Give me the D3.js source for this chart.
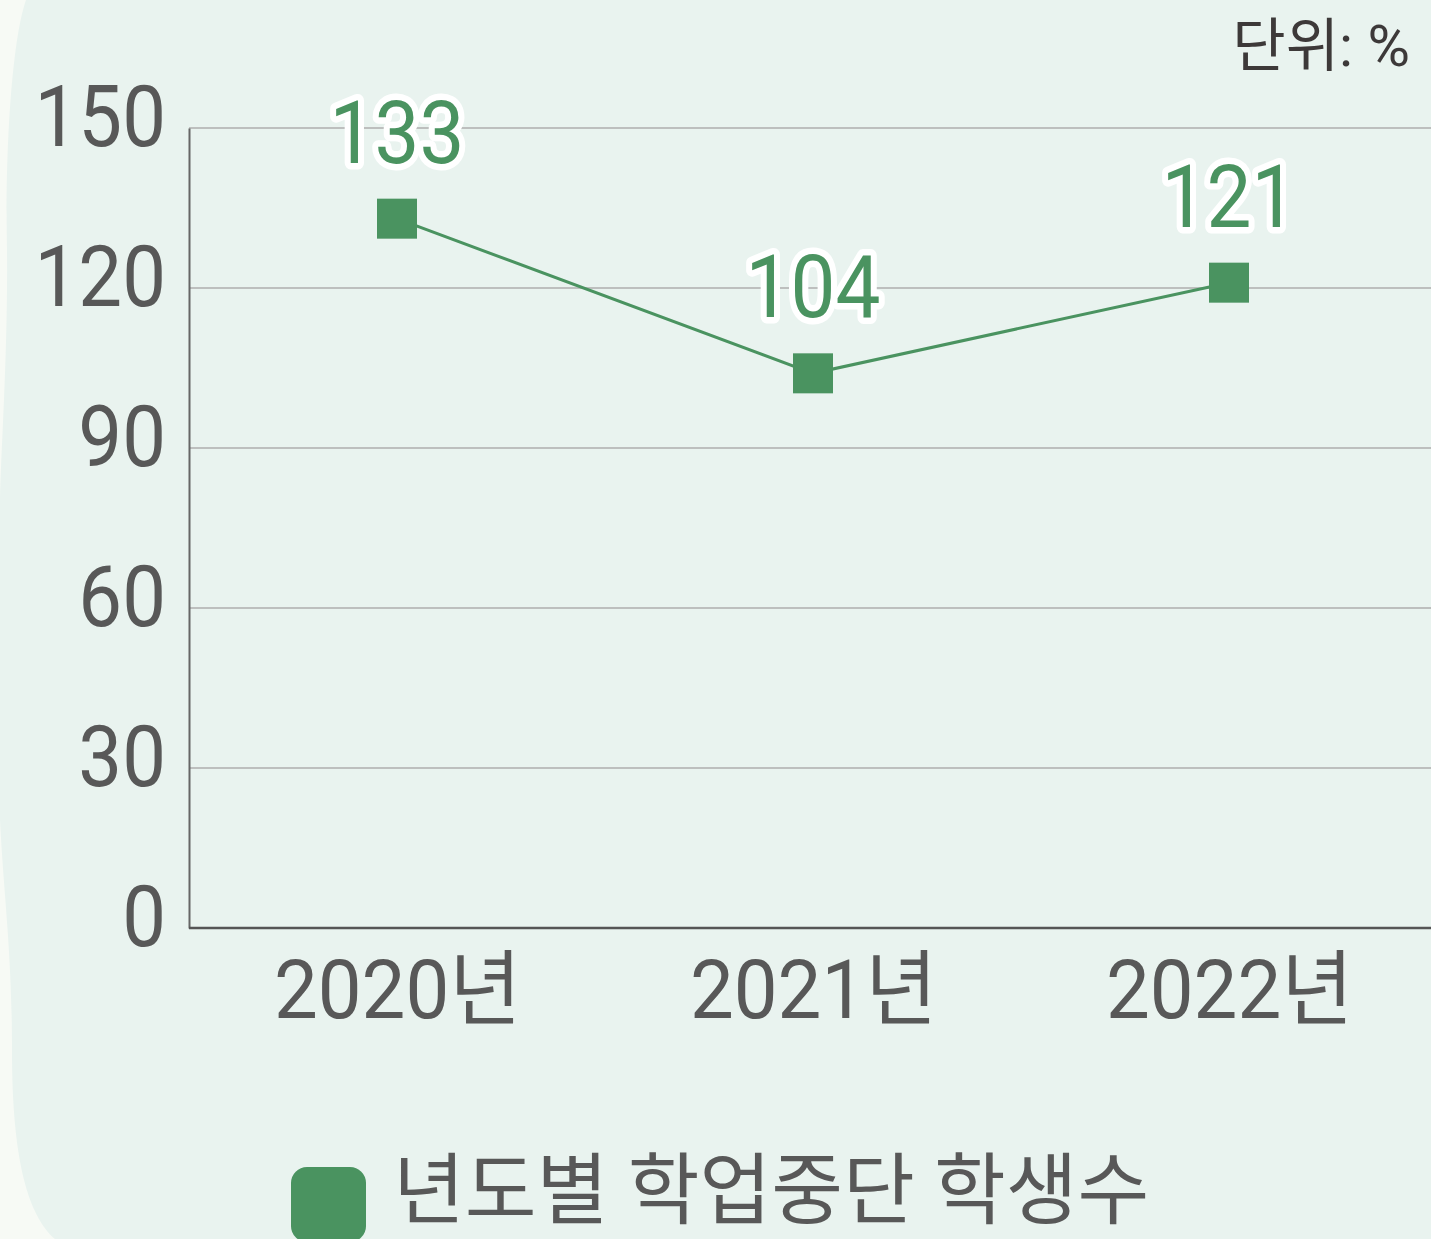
<!DOCTYPE html>
<html>
<head>
<meta charset="utf-8">
<script src="https://cdn.jsdelivr.net/npm/d3@7"></script>
<style>
  html, body { margin: 0; padding: 0; background: #f7faf5; }
  svg { display: block; }
</style>
</head>
<body>
<div id="chart"></div>
<script>
// data
const years = ["2020년", "2021년", "2022년"];
const dropouts = [133, 104, 121];
const yTicks = [0, 30, 60, 90, 120, 150];
const seriesName = "년도별 학업중단 학생수";
const unitLabel = "단위: %";

const width = 1431, height = 1239;
const green = "#4a9360";
const font = "Roboto, 'Noto Sans CJK KR', sans-serif";

const svg = d3.select("#chart").append("svg")
  .attr("width", width)
  .attr("height", height);

// bentuk latar dengan tepi kiri bergelombang
svg.append("path")
  .attr("d", "M1431,0 L26,0 C12,40 5,150 7,250 C8,350 1,450 0,500 L0,820 C4,900 12,950 12,1050 C12,1160 28,1215 55,1239 L1431,1239 Z")
  .attr("fill", "#e9f3ef");

const x = d3.scalePoint()
  .domain(years)
  .range([189, 1437])
  .padding(0.5);

const y = d3.scaleLinear()
  .domain([0, 150])
  .range([928, 128]);

// garis grid
svg.append("g")
  .selectAll("line")
  .data(yTicks.filter(d => d > 0))
  .enter()
  .append("line")
  .attr("x1", 189)
  .attr("x2", width)
  .attr("y1", d => y(d))
  .attr("y2", d => y(d))
  .attr("stroke", "#bdbfbe")
  .attr("stroke-width", 2);

// sumbu y
const yAxis = svg.append("g")
  .attr("transform", "translate(189,0)")
  .call(d3.axisLeft(y).tickValues(yTicks).tickSize(0).tickPadding(23));
yAxis.select(".domain").attr("stroke", "#666").attr("stroke-width", 2);
yAxis.selectAll("text")
  .attr("font-family", font)
  .attr("font-size", 78)
  .attr("fill", "#585858")
  .attr("dy", null)
  .attr("transform", "translate(0,17) scale(1,1.1)");

// sumbu x
const xAxis = svg.append("g")
  .attr("transform", "translate(0,928)")
  .call(d3.axisBottom(x).tickSize(0));
xAxis.select(".domain")
  .attr("d", "M189,0H" + width)
  .attr("stroke", "#555")
  .attr("stroke-width", 2.5);
xAxis.selectAll("text")
  .attr("font-family", font)
  .attr("font-size", 78)
  .attr("fill", "#585858")
  .attr("y", 0)
  .attr("dy", null)
  .attr("transform", "translate(0,90) scale(1,1.05)");

// garis data
const line = d3.line()
  .x((d, i) => x(years[i]))
  .y(d => y(d));

svg.append("path")
  .datum(dropouts)
  .attr("d", line)
  .attr("fill", "none")
  .attr("stroke", green)
  .attr("stroke-width", 3);

// penanda kotak
svg.append("g")
  .selectAll("rect")
  .data(dropouts)
  .enter()
  .append("rect")
  .attr("x", (d, i) => x(years[i]) - 20)
  .attr("y", d => y(d) - 20)
  .attr("width", 40)
  .attr("height", 40)
  .attr("fill", green);

// label nilai dengan halo putih
svg.append("g")
  .selectAll("text")
  .data(dropouts)
  .enter()
  .append("text")
  .attr("transform", (d, i) => "translate(" + x(years[i]) + "," + (y(d) - 56) + ") scale(1,1.08)")
  .attr("text-anchor", "middle")
  .attr("font-family", font)
  .attr("font-size", 80)
  .attr("fill", green)
  .attr("stroke", "#ffffff")
  .attr("stroke-width", 12)
  .attr("stroke-linejoin", "round")
  .attr("paint-order", "stroke")
  .text(d => d);

// satuan
svg.append("text")
  .attr("x", 1410)
  .attr("y", 66)
  .attr("text-anchor", "end")
  .attr("font-family", font)
  .attr("font-size", 58)
  .attr("fill", "#3d3939")
  .text(unitLabel);

// legenda
svg.append("rect")
  .attr("x", 291)
  .attr("y", 1167)
  .attr("width", 75)
  .attr("height", 75)
  .attr("rx", 16)
  .attr("fill", green);

svg.append("text")
  .attr("x", 393)
  .attr("y", 1218)
  .attr("font-family", font)
  .attr("font-size", 78)
  .attr("fill", "#585858")
  .text(seriesName);
</script>
</body>
</html>
